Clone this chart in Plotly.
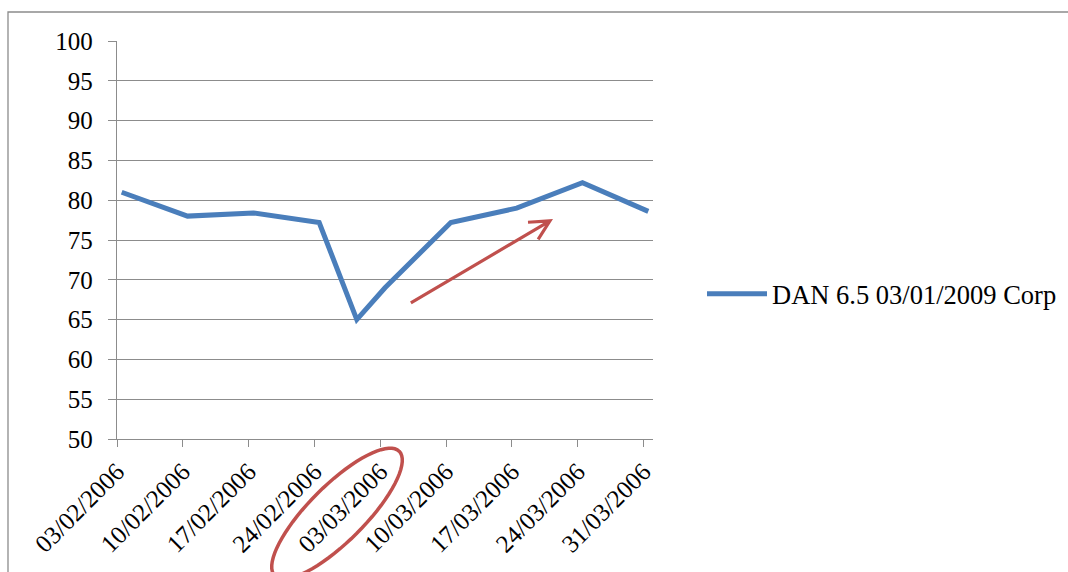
import numpy as np
import pandas as pd
import plotly.graph_objects as go

# ---- data -------------------------------------------------------------
series_name = "DAN 6.5 03/01/2009 Corp"
dates = ["2006-02-03", "2006-02-10", "2006-02-17", "2006-02-24", "2006-02-28",
         "2006-03-03", "2006-03-10", "2006-03-17", "2006-03-24", "2006-03-31"]
prices = [81.0, 78.0, 78.4, 77.2, 65.0, 69.0, 77.2, 79.0, 82.2, 78.6]
week_ticks = ["2006-02-03", "2006-02-10", "2006-02-17", "2006-02-24", "2006-03-03",
              "2006-03-10", "2006-03-17", "2006-03-24", "2006-03-31"]
y_ticks = list(range(50, 101, 5))

# trend arrow drawn over the recovery (tail -> head, in axis units)
arrow_tail = ("2006-03-06 06:00", 67.1)
arrow_head = ("2006-03-21 01:00", 77.4)

# ---- style ------------------------------------------------------------
FONT = "Liberation Serif, Times New Roman, serif"
BLUE = "#4A7EBB"
RED = "#C0504D"
GRID = "#8C8C8C"

W, H = 1068, 572
ML, MR, MT, MB = 117, 415, 41, 133
PW, PH = W - ML - MR, H - MT - MB
Y_MIN, Y_MAX = 50, 100


def paper_x(px):
    return (px - ML) / PW


def paper_y(py):
    return (H - MB - py) / PH


# every day is one slot on the date axis; each value sits mid-day
x_mid = pd.to_datetime(dates) + pd.Timedelta(hours=12)
x_start = pd.Timestamp(week_ticks[0])
x_end = pd.Timestamp(week_ticks[-1]) + pd.Timedelta(days=1)


def axis_to_paper(when, value):
    fx = (pd.Timestamp(when) - x_start) / (x_end - x_start)
    fy = (value - Y_MIN) / (Y_MAX - Y_MIN)
    return fx, fy


fig = go.Figure()
fig.add_trace(go.Scatter(
    x=x_mid, y=prices, mode="lines", name=series_name,
    line=dict(color=BLUE, width=5), showlegend=True,
))

fig.update_xaxes(
    type="date", range=[x_start, x_end], automargin=False,
    tickvals=pd.to_datetime(week_ticks), tickformat="%d/%m/%Y",
    tickangle=-45, ticks="outside", ticklen=7, tickcolor=GRID, tickwidth=1.3,
    showline=True, linecolor=GRID, linewidth=1.3, showgrid=False, zeroline=False,
    tickfont=dict(family=FONT, size=25, color="black"),
)
fig.update_yaxes(
    range=[Y_MIN, Y_MAX], tickvals=y_ticks, automargin=False,
    ticks="outside", ticklen=8, tickcolor=GRID, tickwidth=1.3,
    showline=True, linecolor=GRID, linewidth=1.3,
    showgrid=True, gridcolor=GRID, gridwidth=1.3, zeroline=False,
    ticklabelstandoff=10,
    tickfont=dict(family=FONT, size=25, color="black"),
)

# ellipse highlighting the 03/03/2006 label
cx, cy, a, b, ang = 337, 513.5, 88, 28, np.radians(45)
t = np.linspace(0, 2 * np.pi, 73)
ex = cx + a * np.cos(t) * np.cos(ang) - b * np.sin(t) * np.sin(ang)
ey = cy - (a * np.cos(t) * np.sin(ang) + b * np.sin(t) * np.cos(ang))
ell_path = "M" + " L".join(f"{paper_x(u):.5f},{paper_y(v):.5f}" for u, v in zip(ex, ey)) + " Z"

# open-headed trend arrow (shaft plus two thin barbs), built in pixel space
tx, ty = axis_to_paper(*arrow_tail)
hx, hy = axis_to_paper(*arrow_head)
tpx, tpy = ML + tx * PW, H - MB - ty * PH
hpx, hpy = ML + hx * PW, H - MB - hy * PH
theta = np.arctan2(hpy - tpy, hpx - tpx)
barb_len, barb_ang = 22, np.radians(27)
barbs = [(hpx - barb_len * np.cos(theta + s * barb_ang),
          hpy - barb_len * np.sin(theta + s * barb_ang)) for s in (-1, 1)]
arrow_path = (
    f"M{paper_x(tpx):.5f},{paper_y(tpy):.5f} L{paper_x(hpx):.5f},{paper_y(hpy):.5f} "
    f"M{paper_x(barbs[0][0]):.5f},{paper_y(barbs[0][1]):.5f} "
    f"L{paper_x(hpx):.5f},{paper_y(hpy):.5f} "
    f"L{paper_x(barbs[1][0]):.5f},{paper_y(barbs[1][1]):.5f}"
)

fig.update_layout(
    width=W, height=H,
    margin=dict(l=ML, r=MR, t=MT, b=MB, pad=0, autoexpand=False),
    paper_bgcolor="white", plot_bgcolor="white",
    font=dict(family=FONT, color="black"),
    showlegend=True,
    legend=dict(
        xref="container", yref="container",
        x=702 / W, y=1 - 294 / H, xanchor="left", yanchor="middle",
        font=dict(family=FONT, size=26.5, color="black"),
        bgcolor="rgba(0,0,0,0)", itemwidth=60,
    ),
    shapes=[
        # outer chart border
        dict(type="rect", xref="paper", yref="paper",
             x0=paper_x(8), y0=paper_y(620), x1=paper_x(1120), y1=paper_y(12),
             line=dict(color=GRID, width=1.3), fillcolor="rgba(0,0,0,0)"),
        dict(type="path", xref="paper", yref="paper", path=ell_path,
             line=dict(color=RED, width=3.5)),
        dict(type="path", xref="paper", yref="paper", path=arrow_path,
             line=dict(color=RED, width=3.2)),
    ],
)

fig.write_html("out.html")
